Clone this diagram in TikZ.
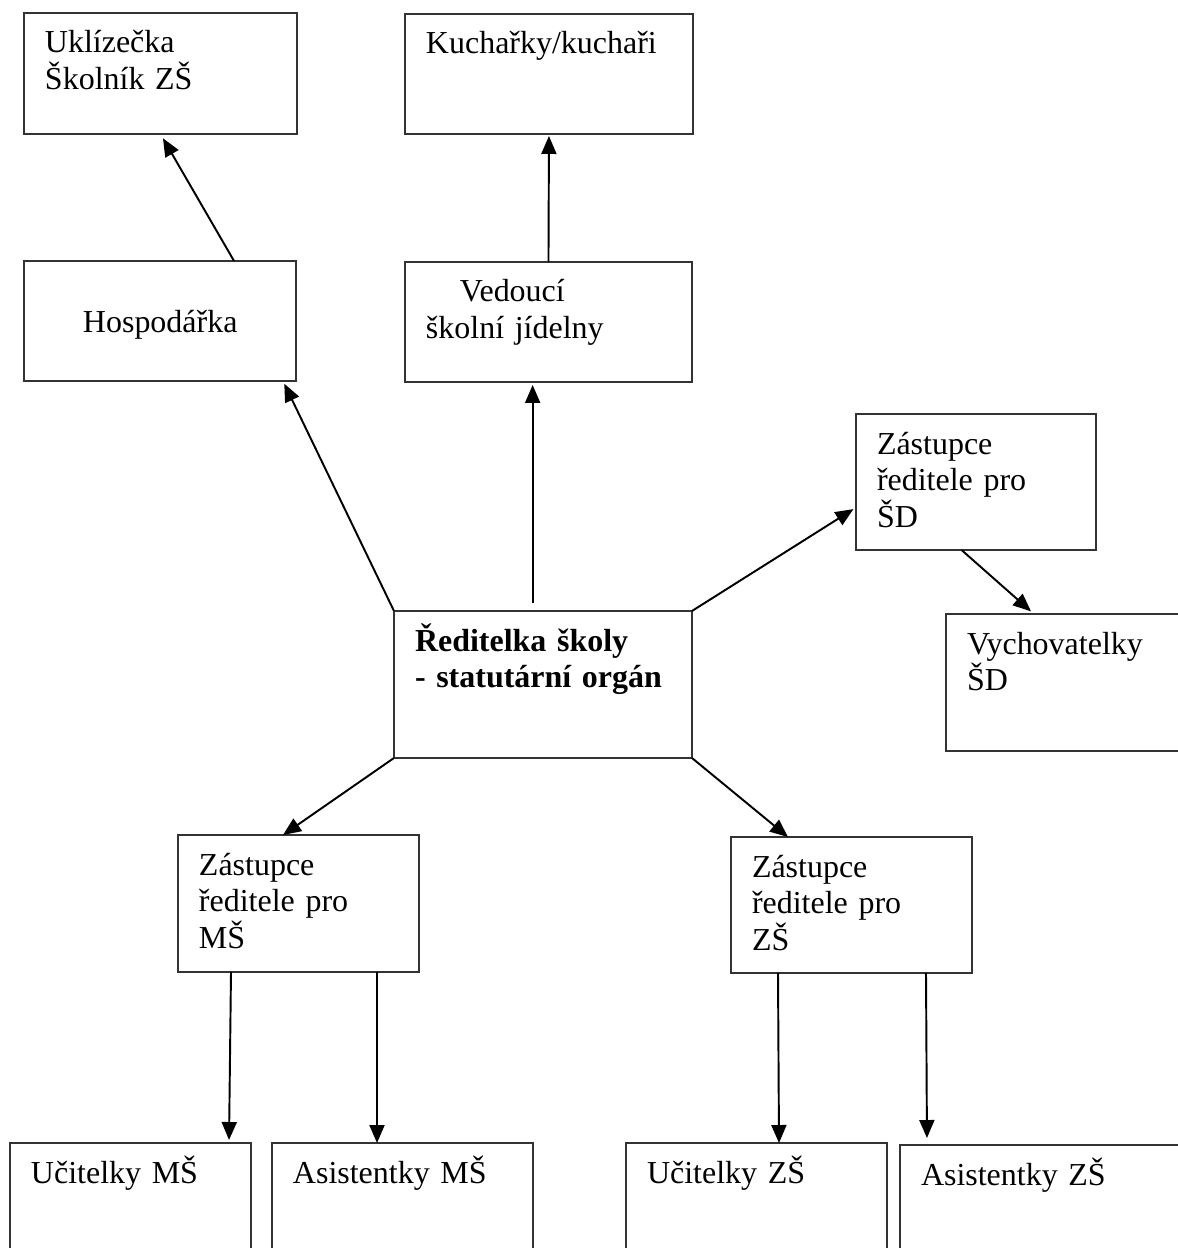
\documentclass[tikz,border=0pt]{standalone}
\usepackage{fontspec}
\setmainfont{Liberation Serif}
\usetikzlibrary{arrows.meta,calc}

\begin{document}
\begin{tikzpicture}[x=0.02cm,y=-0.02cm,font=\fontsize{18.2pt}{21pt}\selectfont,
  box/.style 2 args={draw=black!80,line width=0.8pt,anchor=north west,align=left,outer sep=0pt,
    inner xsep=0.42cm,inner ysep=0.3cm,text height=0.5cm,text width=#1,text depth=#2},
  arr/.style={-{Triangle[length=0.36cm,width=0.3cm]},line width=1.1pt}]
\useasboundingbox (0,0) rectangle (1177,1248);
% horni rada
\node[box={4.62cm}{1.32cm}] (ukl) at (24,13) {Uklízečka\\Školník ZŠ};
\node[box={4.92cm}{1.30cm}] (kuch) at (405,14) {Kuchařky/kuchaři};
\node[box={4.60cm}{0.66cm},text height=1.14cm] (hosp) at (24,261) {\hspace*{0.76cm}Hospodářka};
\node[box={4.90cm}{1.30cm}] (ved) at (405,262) {\hspace*{0.68cm}Vedoucí\\školní jídelny};
% stred
\node[box={3.96cm}{1.62cm}] (zsd) at (856,414) {Zástupce\\ředitele pro\\ŠD};
\node[box={5.12cm}{1.84cm}] (red) at (394,611) {\bfseries Ředitelka školy\\- statutární orgán};
\node[box={4.24cm}{1.64cm}] (vych) at (946,614) {Vychovatelky\\ŠD};
\node[box={3.98cm}{1.64cm}] (zms) at (178,835) {Zástupce\\ředitele pro\\MŠ};
\node[box={3.98cm}{1.62cm}] (zzs) at (731,837) {Zástupce\\ředitele pro\\ZŠ};
% dolni rada
\foreach \n/\x/\w/\t in {ucms/10/3.98cm/Učitelky MŠ,asms/272/4.38cm/Asistentky MŠ,uczs/626/4.38cm/Učitelky ZŠ}
  \node[box={\w}{1.44cm}] (\n) at (\x,1143) {\t};
\node[box={5.16cm}{1.40cm}] (aszs) at (900,1145) {Asistentky ZŠ};
% sipky
\draw[arr,shorten >=0.1cm] (hosp.39) -- (ukl.south);
\draw[arr,shorten >=0.04cm] (ved.north) -- (kuch.south);
\draw[arr,shorten >=0.06cm] (red.north west) -- (hosp.-26);
\draw[arr,shorten <=0.16cm,shorten >=0.06cm] (red.98) -- (red.98 |- ved.south);
\draw[arr,shorten >=0.06cm] (red.north east) -- (zsd.192);
\draw[arr,shorten >=0.08cm] (zsd.258) -- ($(vych.north west)+(88,0)$);
\draw[arr] (red.south west) -- ($(zms.north west)+(105,0)$);
\draw[arr] (red.south east) -- ($(zzs.north west)+(57,0)$);
\draw[arr,shorten >=0.06cm] ($(zms.south west)+(53,0)$) -- ($(ucms.north west)+(219,0)$);
\draw[arr] ($(zms.south west)+(199,0)$) -- ($(asms.north west)+(105,0)$);
\draw[arr] ($(zzs.south west)+(47,0)$) -- ($(uczs.north west)+(153,0)$);
\draw[arr,shorten >=0.14cm] ($(zzs.south west)+(195,0)$) -- ($(aszs.north west)+(27,0)$);
\end{tikzpicture}
\end{document}
